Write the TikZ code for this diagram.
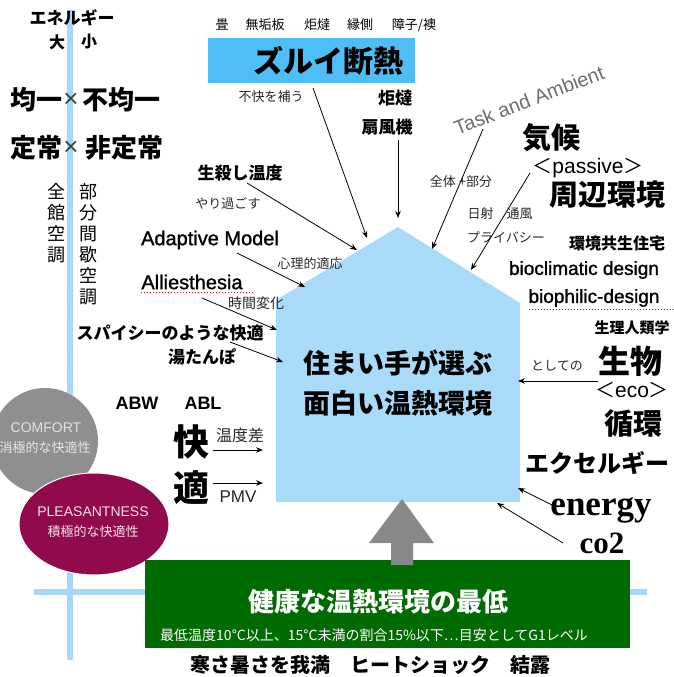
\documentclass[tikz,border=0pt]{standalone}
\usepackage{fontspec}
\setmainfont{Liberation Sans}
\newfontfamily\jp{Noto Sans CJK JP}
\newfontfamily\lsans{Liberation Sans}
\newfontfamily\lsmed[FakeBold=1.2]{Liberation Sans}
\newfontfamily\lserif{Liberation Serif}
\usetikzlibrary{arrows.meta}
\definecolor{guidec}{RGB}{166,216,250}
\definecolor{housec}{RGB}{169,219,249}
\definecolor{titlec}{RGB}{79,190,245}
\definecolor{greenc}{RGB}{0,107,0}
\definecolor{comfortc}{RGB}{143,143,143}
\definecolor{pleasc}{RGB}{145,10,75}
\definecolor{taskc}{RGB}{110,110,110}
\definecolor{subc}{RGB}{40,40,40}
\newcommand\jpf[1]{\jp\fontsize{#1}{#1}\selectfont}
\newcommand\jpb[1]{\jp\bfseries\fontsize{#1}{#1}\selectfont}
\newcommand\lsf[1]{\lsans\fontsize{#1}{#1}\selectfont}
\newcommand\lsm[1]{\lsmed\fontsize{#1}{#1}\selectfont}
\newcommand\lsb[1]{\lsans\bfseries\fontsize{#1}{#1}\selectfont}
\newcommand\lrb[1]{\lserif\bfseries\fontsize{#1}{#1}\selectfont}
\tikzset{
  lbl/.style={inner sep=0pt, outer sep=0pt, text=black},
  sub/.style={lbl, text=subc},
  guide/.style={draw=guidec, line width=6pt},
  arr/.style={-{Stealth[length=7pt,width=5.5pt]}, line width=0.8pt, black},
  redul/.style={draw=red, dotted, line width=1pt},
}
\begin{document}
\begin{tikzpicture}[x=1pt,y=-1pt]
\useasboundingbox[fill=white] (0,0) rectangle (673,677);
% guide lines
\draw[guide] (70,10) -- (70,660);
\draw[guide] (34,592) -- (647,592);
% comfort circles
\fill[comfortc] (45,441) circle (53pt);
\filldraw[fill=pleasc, draw=white, line width=1pt] (94,524) ellipse [x radius=75pt, y radius=51pt];
% house
\fill[housec] (276,300) -- (398,227) -- (520,303) -- (520,502) -- (276,502) -- cycle;
% title box
\fill[titlec] (208,38) rectangle (415,83);
% green box
\fill[greenc] (145,560) rectangle (630,648);
% gray arrow
\fill[comfortc!95!black] (391,565) -- (391,543) -- (369,543) -- (402,499) -- (434,543) -- (413,543) -- (413,565) -- cycle;

% top left
\node[lbl, font=\jpb{17}] (ene) at (72,18) {エネルギー};
\node[lbl, font=\jpb{16}] (dai) at (57,42) {大};
\node[lbl, font=\jpb{16}] (sho) at (89,42) {小};
\node[lbl, font=\jpb{26}, anchor=east] (kin) at (62,100) {均一};
\node[lbl, font=\lsf{26}, text=black!75] (x1) at (71,100) {×};
\node[lbl, font=\jpb{26}, anchor=west] (fkin) at (82,100) {不均一};
\node[lbl, font=\jpb{26}, anchor=east] (tei) at (62,148) {定常};
\node[lbl, font=\lsf{26}, text=black!75] (x2) at (71,148) {×};
\node[lbl, font=\jpb{26}, anchor=west] (htei) at (85,148) {非定常};
\node[lbl, font=\jp\fontsize{18}{21}\selectfont, align=center, anchor=north] (zenkan) at (56,183) {全\\館\\空\\調};
\node[lbl, font=\jp\fontsize{18}{21}\selectfont, align=center, anchor=north] (bubun) at (88,183) {部\\分\\間\\歇\\空\\調};

% top center
\node[lbl, font=\jpf{13}] (tatami) at (222,25) {畳};
\node[lbl, font=\jpf{13}] (muku) at (265,25) {無垢板};
\node[lbl, font=\jpf{13}] (kota) at (317,25) {炬燵};
\node[lbl, font=\jpf{13}] (engawa) at (360,25) {縁側};
\node[lbl, font=\jpf{13}] (shoji) at (414,25) {障子/襖};
\node[lbl, font=\jpb{30}] (zurui) at (328,61) {ズルイ断熱};
\node[sub, font=\jpf{13}] (fukai) at (271,97) {不快を補う};
\node[lbl, font=\jpb{17}] (kota2) at (395,98) {炬燵};
\node[lbl, font=\jpb{17}] (senpu) at (387,127) {扇風機};
\node[lbl, font=\lsf{20}, text=taskc, rotate=21] (task) at (529,100) {Task and Ambient};

% top right
\node[lbl, font=\jpb{29}] (kikou) at (551,138) {気候};
\node[lbl, font=\jpf{20}] (passive) at (588,168) {＜{\lsf{21}passive}＞};
\node[lbl, font=\jpb{29}] (shuhen) at (607,195) {周辺環境};
\node[sub, font=\jpf{13}] (zentai) at (461,182) {全体 +部分};
\node[sub, font=\jpf{13}] (nissha) at (500,214) {日射\quad 通風};
\node[sub, font=\jpf{13}] (priv) at (506,237) {プライバシー};
\node[lbl, font=\jpb{16}] (kankyo) at (617,243) {環境共生住宅};
\node[lbl, font=\lsm{19}] (bioc) at (584,270) {bioclimatic design};
\node[lbl, font=\lsm{19}] (biop) at (594,298) {biophilic-design};
\draw[redul] (biop.south west) ++(0,3) -- ++(156,0);

% right
\node[lbl, font=\jpb{15}] (seiri) at (632,328) {生理人類学};
\node[sub, font=\jpf{13}] (toshite) at (557,366) {としての};
\node[lbl, font=\jpb{32}] (seibutsu) at (630,361) {生物};
\node[lbl, font=\jpf{20}] (eco) at (632,390) {＜{\lsf{21}eco}＞};
\node[lbl, font=\jpb{29}] (junkan) at (633,423) {循環};
\node[lbl, font=\jpb{24}] (exergy) at (597,463) {エクセルギー};
\node[lbl, font=\lrb{35}] (energy) at (601,510) {energy};
\node[lbl, font=\lrb{31}] (co2) at (602,543) {co2};

% house text
\node[lbl, font=\jpb{27}] (sumai) at (398,363) {住まい手が選ぶ};
\node[lbl, font=\jpb{27}] (omoshiro) at (398,403) {面白い温熱環境};

% left labels
\node[lbl, font=\jpb{17}] (namagoroshi) at (240,173) {生殺し温度};
\node[sub, font=\jpf{13}] (yari) at (228,203) {やり過ごす};
\node[lbl, font=\lsm{20}] (adaptive) at (210,240) {Adaptive Model};
\node[sub, font=\jpf{13}] (shinri) at (310,264) {心理的適応};
\node[lbl, font=\lsm{20}] (allie) at (192,282) {Alliesthesia};
\draw[redul] (allie.south west) ++(0,3) -- ++(112,0);
\node[sub, font=\jpf{14}] (jikan) at (256,303) {時間変化};
\node[lbl, font=\jpb{17}] (spicy) at (170,333) {スパイシーのような快適};
\node[lbl, font=\jpb{17}] (yutanpo) at (202,357) {湯たんぽ};
\node[lbl, font=\lsb{18}] (abw) at (137,403) {ABW};
\node[lbl, font=\lsb{18}] (abl) at (203,403) {ABL};
\node[lbl, font=\jpb{36}] (kai) at (191,442) {快};
\node[lbl, font=\jpb{36}] (teki) at (191,488) {適};
\node[sub, font=\jpf{16}] (ondosa) at (240,435) {温度差};
\node[sub, font=\lsf{17}] (pmv) at (238,497) {PMV};
\coordinate (a1s) at (213,450);
\coordinate (a1e) at (263,450);
\coordinate (a2s) at (213,483);
\coordinate (a2e) at (263,483);
\draw[arr] (a1s) -- (a1e);
\draw[arr] (a2s) -- (a2e);

% circles text
\node[lbl, font=\lsf{14}, text=white!88!black] (comfort) at (46,428) {COMFORT};
\node[lbl, font=\jpf{13}, text=white!90!black] (shokyoku) at (45,448) {消極的な快適性};
\node[lbl, font=\lsf{14}, text=white!88!pleasc] (pleasant) at (93,512) {PLEASANTNESS};
\node[lbl, font=\jpf{13}, text=white!88!pleasc] (sekkyoku) at (93,532) {積極的な快適性};

% bottom
\node[lbl, font=\jpb{26}, text=white] (kenko) at (378,602) {健康な温熱環境の最低};
\node[lbl, font=\jpf{14}, text=white] (saitei) at (374,635) {最低温度10°C以上、15°C未満の割合15\%以下…目安としてG1レベル};
\node[lbl, font=\jpb{20}] (samusa) at (370,665) {寒さ暑さを我満\quad ヒートショック\quad 結露};

% arrow coordinates
\coordinate (p1s) at (313,88);   \coordinate (p1e) at (367,238);
\coordinate (p2s) at (398,140);  \coordinate (p2e) at (398,218);
\coordinate (p3s) at (483,129);  \coordinate (p3e) at (432,249);
\coordinate (p4s) at (530,173);  \coordinate (p4e) at (471,270);
\coordinate (p5s) at (247,183);  \coordinate (p5e) at (357,250);
\coordinate (p6s) at (237,253);  \coordinate (p6e) at (305,287);
\coordinate (p7s) at (202,298);  \coordinate (p7e) at (277,330);
\coordinate (p8s) at (230,342);  \coordinate (p8e) at (283,362);
\coordinate (p9s) at (598,381);  \coordinate (p9e) at (518,381);
\coordinate (p10s) at (552,505); \coordinate (p10e) at (518,488);
\coordinate (p11s) at (563,543); \coordinate (p11e) at (497,503);
\foreach \i in {1,...,11} { \draw[arr] (p\i s) -- (p\i e); }
\end{tikzpicture}
\end{document}
